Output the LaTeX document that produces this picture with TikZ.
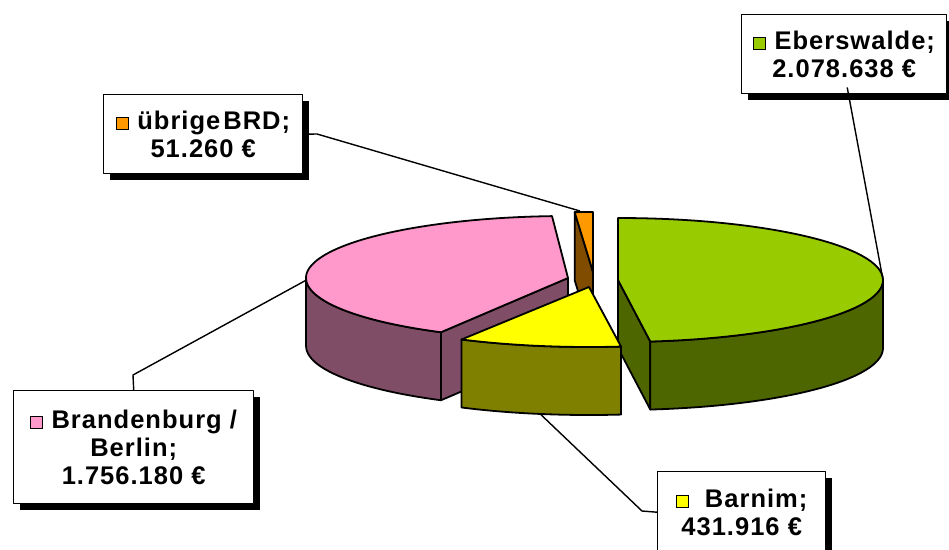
\documentclass[tikz,border=0pt]{standalone}
\usepackage{fontspec}
\newfontfamily\labfont{Liberation Sans}[LetterSpace=4]
\usetikzlibrary{calc,shadows}
\definecolor{ebtop}{HTML}{99CC00}
\definecolor{ebside}{HTML}{4D6600}
\definecolor{pktop}{HTML}{FF99CC}
\definecolor{pkside}{HTML}{804D66}
\definecolor{yetop}{HTML}{FFFF00}
\definecolor{yeside}{HTML}{808000}
\definecolor{ortop}{HTML}{FF9900}
\definecolor{orside}{HTML}{804D00}
\setlength{\fboxsep}{0pt}
\setlength{\fboxrule}{1pt}
\newcommand{\keysq}[1]{\fcolorbox{black}{#1}{\rule{0pt}{11pt}\rule{11pt}{0pt}}}
\begin{document}
\begin{tikzpicture}[x=1pt,y=-1pt,line join=round,
  slice/.style={draw=black,line width=1.8pt},
  lblbox/.style={draw=black,line width=1.4pt,fill=white,anchor=north west,align=center,inner sep=0pt,
    font=\labfont\bfseries\fontsize{25.5}{28}\selectfont,
    drop shadow={shadow xshift=6pt,shadow yshift=-6pt,opacity=1,fill=black}},
  leader/.style={draw=black,line width=1.4pt}]
\useasboundingbox (0,0) rectangle (949,549);

% ---- übrige BRD (orange) ----
\coordinate (orC) at (593,272);
\coordinate (orA) at ($(orC)+(-94:263 and 60)$);
\fill[orside,slice] (orC) -- (orA) -- ($(orA)+(0,68)$) -- ($(orC)+(0,68)$) -- cycle;
\fill[ortop,slice] (orC) -- (orA) arc[start angle=-94,end angle=-90,x radius=263,y radius=60] -- cycle;

% ---- Brandenburg / Berlin (pink) ----
\coordinate (pkC) at (568,278);
\coordinate (pkA) at ($(pkC)+(119:262 and 62)$);
\coordinate (pkL) at ($(pkC)+(180:262 and 62)$);
\fill[pkside,slice] (pkC) -- (pkA) -- ($(pkA)+(0,68)$) -- ($(pkC)+(0,68)$) -- cycle;
\fill[pkside,slice] (pkA) arc[start angle=119,end angle=180,x radius=262,y radius=62]
  -- ($(pkL)+(0,68)$) arc[start angle=180,end angle=119,x radius=262,y radius=62] -- cycle;
\fill[pktop,slice] (pkC) -- (pkA) arc[start angle=119,end angle=266.5,x radius=262,y radius=62] -- cycle;
\coordinate (pktip) at ($(pkC)+(178:262 and 62)$);

% ---- Eberswalde (green) ----
\coordinate (ebC) at (618,280);
\coordinate (ebA) at ($(ebC)+(83:265 and 62)$);
\coordinate (ebR) at ($(ebC)+(0:265 and 62)$);
\fill[ebside,slice] (ebC) -- (ebA) -- ($(ebA)+(0,68)$) -- ($(ebC)+(0,68)$) -- cycle;
\fill[ebside,slice] (ebR) arc[start angle=0,end angle=83,x radius=265,y radius=62]
  -- ($(ebA)+(0,68)$) arc[start angle=83,end angle=0,x radius=265,y radius=62] -- cycle;
\fill[ebtop,slice] (ebC) -- ($(ebC)+(-90:265 and 62)$) arc[start angle=-90,end angle=83,x radius=265,y radius=62] -- cycle;
\coordinate (ebtip) at (ebR);

% ---- Barnim (yellow) ----
\coordinate (yeC) at (589,287);
\coordinate (yeA) at ($(yeC)+(83:263 and 60)$);
\coordinate (yeB) at ($(yeC)+(119:263 and 60)$);
\fill[yeside,slice] (yeA) arc[start angle=83,end angle=119,x radius=263,y radius=60]
  -- ($(yeB)+(0,68)$) arc[start angle=119,end angle=83,x radius=263,y radius=60] -- cycle;
\fill[yetop,slice] (yeC) -- (yeA) arc[start angle=83,end angle=119,x radius=263,y radius=60] -- cycle;
\coordinate (yetip) at ($(yeC)+(100.7:263 and 60)+(0,68)$);

% ---- label boxes ----
\node[lblbox,minimum width=205pt,minimum height=79pt] (eb) at (741,14) {\keysq{ebtop} Eberswalde;\\2.078.638 €};
\node[lblbox,minimum width=199pt,minimum height=79pt] (or) at (103,94) {\keysq{ortop} {\spaceskip=3pt übrige BRD;}\\51.260 €};
\node[lblbox,minimum width=240pt,minimum height=113pt] (pk) at (13,390) {\keysq{pktop} Brandenburg /\\Berlin;\\1.756.180 €};
\node[lblbox,minimum width=168pt,minimum height=81pt] (ye) at (657,471) {\keysq{yetop}\hspace{16pt}Barnim;\\431.916 €};

% ---- leader lines ----
\coordinate (orbend) at (317,134);
\coordinate (orto) at (580,211);
\coordinate (pkbend) at (133,375);
\coordinate (yebend) at (642,511);
\draw[leader] ([xshift=3pt,yshift=7pt]eb.south) -- (ebtip);
\draw[leader] (or.east) -- (orbend) -- (orto);
\draw[leader] (pk.north) -- (pkbend) -- (pktip);
\draw[leader] (ye.west) -- (yebend) -- (yetip);
\end{tikzpicture}
\end{document}
